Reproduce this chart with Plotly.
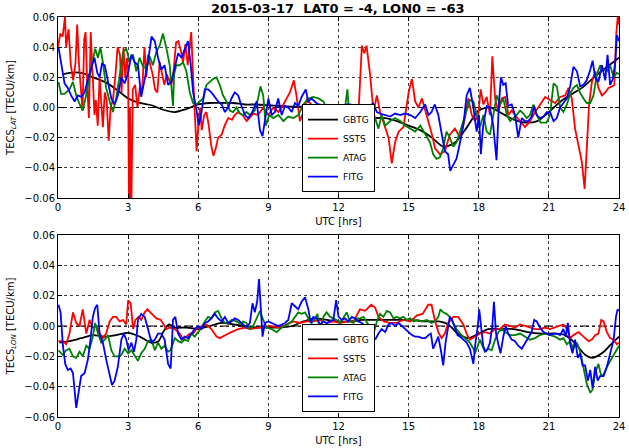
import plotly.graph_objects as go

# ---------------- data (TECU/km vs UTC hours) ----------------
series_names = ["GBTG", "SSTS", "ATAG", "FITG"]

# ---- upper panel: TECS_LAT ----
lat_t_gbtg = [0.2,0.5,1.0,1.5,2.0,2.5,3.0,3.5,4.0,4.5,5.0,5.5,6.0,6.5,7.0,7.5,8.0,8.5,9.0,9.5,10.0,10.5,11.0,11.5,11.9,12.3,13.0,13.5,14.0,14.5,15.0,15.5,16.0,16.5,17.0,17.5,18.0,18.5,19.0,19.5,20.0,20.5,21.0,21.5,22.0,22.5,23.0,23.5,24.0]
lat_gbtg = [0.022,0.023,0.023,0.020,0.017,0.012,0.006,0.003,0.0015,-0.0015,-0.003,-0.001,0.002,0.003,0.003,0.003,0.002,0.002,0.0015,0.001,0.0005,0.0005,0.0005,0.0,-0.003,-0.007,-0.007,-0.007,-0.007,-0.009,-0.012,-0.015,-0.020,-0.026,-0.023,-0.013,-0.002,0.0,-0.004,-0.008,-0.010,-0.009,-0.003,0.004,0.009,0.014,0.021,0.027,0.033]

lat_t_ssts = [0.0,0.1,0.2,0.3,0.35,0.45,0.55,0.65,0.75,0.82,0.9,0.98,1.05,1.12,1.18,1.25,1.32,1.4,1.48,1.56,1.62,1.7,1.78,1.85,1.92,2.0,2.08,2.17,2.25,2.35,2.45,2.55,2.65,2.72,2.8,2.88,2.95,3.0,3.04,3.08,3.13,3.2,3.3,3.4,3.5,3.6,3.7,3.78,3.85,3.95,4.05,4.15,4.25,4.35,4.45,4.55,4.65,4.75,4.85,4.95,5.05,5.15,5.25,5.35,5.45,5.55,5.62,5.7,5.78,5.85,5.93,6.0,6.08,6.15,6.25,6.35,6.45,6.55,6.65,6.75,6.85,7.0,7.13,7.28,7.45,7.56,7.7,7.9,
              8.07,8.36,8.56,8.78,9.0,9.21,9.43,9.64,9.78,9.92,10.09,10.2,10.35,10.5,10.64,10.78,11.0,11.2,11.42,11.64,11.85,12.0,12.2,12.42,12.64,12.85,13.0,13.1,13.2,13.35,13.5,13.64,13.78,14.0,14.14,14.28,14.42,14.57,14.78,15.0,15.14,15.28,15.42,15.57,15.78,
              16.0,16.13,16.34,16.55,16.76,16.98,17.2,17.41,17.55,17.7,17.84,17.98,18.08,18.2,18.34,18.48,18.58,18.7,18.84,18.98,19.13,19.27,19.41,19.55,19.77,19.98,20.2,20.41,20.63,20.84,21.05,21.27,21.48,21.7,21.84,21.98,22.12,22.27,22.41,22.53,22.62,22.72,22.84,22.98,23.12,23.27,23.41,23.55,23.7,23.8,23.88,23.95,24.0]
lat_ssts = [0.040,0.049,0.047,0.060,0.040,0.052,0.028,0.018,0.030,0.055,0.028,0.010,-0.002,0.045,0.050,0.015,-0.007,0.050,0.020,-0.005,0.005,-0.012,0.020,0.000,-0.013,0.010,0.005,-0.022,0.000,0.005,0.020,0.040,0.035,0.010,0.040,0.020,0.033,0.025,-0.075,0.000,-0.075,0.012,0.015,0.000,0.013,0.012,0.040,0.020,0.035,0.028,0.022,0.012,0.010,0.030,0.022,0.015,0.022,0.018,0.015,0.025,0.043,0.044,0.038,0.030,0.042,0.028,0.040,0.050,0.020,-0.005,-0.029,-0.012,0.000,-0.015,-0.005,-0.003,-0.012,-0.025,-0.032,-0.027,-0.020,-0.018,-0.012,-0.007,-0.008,-0.005,-0.003,-0.005,
            -0.009,-0.004,-0.005,0.000,-0.005,0.000,-0.003,0.002,0.006,0.010,0.018,0.008,-0.009,-0.003,0.005,0.003,-0.001,0.002,-0.007,-0.012,-0.007,0.000,-0.005,-0.009,-0.007,-0.005,0.041,0.036,0.041,0.022,-0.003,0.008,-0.003,-0.014,-0.020,-0.037,-0.023,-0.016,-0.013,0.010,0.019,0.004,0.000,0.006,-0.005,
            -0.018,-0.027,-0.031,-0.029,-0.018,-0.014,-0.020,-0.007,0.006,-0.005,-0.009,-0.005,0.012,0.002,0.007,-0.005,0.034,0.006,-0.003,0.006,0.007,-0.005,-0.002,-0.005,-0.009,-0.013,-0.009,-0.003,0.002,0.007,0.005,0.003,0.007,0.008,0.013,0.006,-0.014,-0.025,-0.036,-0.054,-0.027,0.002,0.017,0.024,0.013,0.008,0.010,0.013,0.014,0.015,0.048,0.061,0.055]

lat_t_atag = [0.02,0.13,0.28,0.49,0.64,0.78,0.93,1.06,1.2,1.35,1.49,1.59,1.71,1.81,1.92,2.06,2.21,2.35,2.49,2.64,2.79,2.92,3.06,3.21,3.35,3.49,3.64,3.78,3.92,4.06,4.21,4.35,4.49,4.64,4.78,4.88,4.92,4.97,5.06,5.21,5.35,5.49,5.64,5.78,5.92,6.06,6.21,6.35,6.49,6.64,6.78,6.92,7.06,7.21,7.35,7.49,7.64,7.78,7.92,8.06,8.21,8.42,8.56,8.66,8.78,8.89,9.04,9.21,9.43,9.64,9.85,10.07,10.28,10.5,10.71,10.92,11.14,11.35,11.57,11.78,12.0,12.14,12.28,12.38,12.5,12.71,12.92,13.14,13.28,13.42,13.57,13.71,13.85,14.0,14.21,14.42,14.64,14.85,15.07,15.28,15.5,15.71,15.91,16.05,16.19,16.34,16.48,16.62,16.76,16.91,17.05,17.2,17.34,17.48,17.62,17.77,17.91,18.05,18.2,18.34,18.48,18.62,18.77,18.91,19.05,19.2,19.34,19.48,19.62,19.77,19.91,20.05,20.19,20.34,20.48,20.65,20.9,21.05,21.2,21.34,21.48,21.62,21.77,21.91,22.05,22.2,22.33,22.48,22.62,22.77,22.91,23.05,23.2,23.34,23.48,23.62,23.77,23.91,24.0]
lat_atag = [0.017,0.009,0.009,0.012,0.017,0.008,0.002,-0.002,0.008,0.020,0.033,0.039,0.033,0.040,0.030,0.013,0.004,-0.003,0.006,0.022,0.037,0.039,0.031,0.035,0.024,0.033,0.027,0.026,0.034,0.028,0.037,0.041,0.049,0.039,0.028,0.008,0.001,0.022,0.028,0.028,0.030,0.024,0.010,0.003,0.002,0.004,0.006,0.015,0.017,0.019,0.020,0.015,0.008,0.004,-0.002,-0.003,0.000,-0.004,-0.005,-0.003,-0.005,-0.002,0.006,0.014,0.008,-0.012,-0.005,-0.007,-0.005,-0.009,-0.006,-0.007,-0.005,0.002,0.006,0.007,0.006,0.004,-0.003,-0.007,-0.014,-0.007,0.000,0.012,-0.014,-0.015,-0.014,-0.018,-0.005,0.000,-0.007,-0.014,-0.005,-0.012,-0.009,-0.007,-0.009,-0.012,-0.014,-0.016,-0.012,-0.018,-0.023,-0.031,-0.034,-0.033,-0.027,-0.016,-0.020,-0.026,-0.023,-0.016,-0.009,-0.003,0.005,0.004,-0.005,-0.013,-0.005,-0.016,-0.018,-0.005,0.008,0.002,0.006,-0.005,-0.009,-0.007,-0.005,-0.002,-0.004,-0.007,-0.005,0.002,-0.005,-0.010,-0.010,-0.005,0.016,0.014,0.000,-0.003,0.002,0.009,0.013,0.015,0.010,0.006,0.003,0.003,0.008,0.022,0.028,0.025,0.024,0.028,0.020,0.023,0.022]

lat_t_fitg = [0.02,0.14,0.28,0.42,0.56,0.71,0.85,1.0,1.14,1.28,1.42,1.56,1.68,1.78,1.88,2.0,2.14,2.28,2.42,2.56,2.71,2.85,3.0,3.14,3.28,3.42,3.56,3.71,3.85,4.0,4.14,4.28,4.42,4.56,4.71,4.85,5.0,5.14,5.28,5.42,5.56,5.68,5.78,5.92,6.02,6.14,6.28,6.42,6.56,6.71,6.85,7.0,7.14,7.28,7.42,7.56,7.71,7.85,8.0,8.14,8.28,8.5,8.64,8.75,8.85,9.0,9.14,9.28,9.42,9.57,9.71,9.85,10.0,10.14,10.28,10.42,10.6,10.7,10.85,11.05,11.27,11.49,11.71,11.92,12.07,12.21,12.35,12.5,12.64,12.78,12.92,13.07,13.21,13.35,13.47,13.64,13.78,14.0,14.21,14.42,14.64,14.85,15.07,15.28,15.5,15.71,15.85,15.98,16.12,16.27,16.41,16.55,16.69,16.78,16.91,17.05,17.2,17.34,17.48,17.62,17.77,17.91,18.01,18.09,18.19,18.34,18.48,18.62,18.76,18.86,18.95,19.05,19.15,19.26,19.41,19.55,19.69,19.84,19.98,20.12,20.26,20.37,20.48,20.62,20.77,20.91,21.05,21.2,21.34,21.48,21.62,21.77,21.91,22.05,22.2,22.34,22.48,22.62,22.77,22.87,22.98,23.12,23.27,23.41,23.51,23.62,23.74,23.84,23.91,24.0]
lat_fitg = [0.040,0.028,0.016,0.013,0.008,0.004,0.008,0.007,0.010,0.019,0.026,0.033,0.023,0.020,0.029,0.028,0.017,0.006,0.002,0.008,0.020,0.016,0.023,0.035,0.030,0.028,0.007,0.018,0.030,0.047,0.044,0.033,0.025,0.028,0.015,0.017,0.028,0.036,0.033,0.039,0.044,0.028,0.010,-0.001,-0.012,-0.003,0.012,0.012,0.010,0.007,0.004,0.002,-0.003,0.000,0.006,0.010,0.008,0.001,-0.005,-0.007,-0.004,0.004,-0.015,-0.019,-0.009,0.006,-0.005,-0.003,0.006,-0.005,0.001,0.000,-0.003,0.003,0.001,0.007,0.012,0.004,0.006,0.003,0.001,0.000,-0.003,0.001,-0.007,0.000,0.002,0.002,-0.003,-0.007,-0.009,-0.007,-0.006,0.000,0.003,-0.003,-0.004,-0.005,-0.006,-0.004,-0.005,-0.004,-0.005,-0.007,-0.003,0.002,-0.005,-0.003,0.002,-0.005,-0.016,-0.029,-0.031,-0.042,-0.038,-0.034,-0.023,-0.012,0.008,0.013,0.000,-0.016,-0.005,-0.031,-0.012,0.001,0.000,-0.012,-0.035,0.002,0.020,0.015,0.016,0.001,0.002,-0.005,-0.020,-0.007,-0.009,-0.009,-0.006,0.001,-0.005,-0.007,-0.006,-0.003,-0.003,-0.009,-0.007,0.000,0.003,0.006,0.014,0.027,0.024,0.014,0.015,0.018,0.025,0.031,0.020,0.017,0.028,0.018,0.035,0.015,0.019,0.030,0.048,0.044]

# ---- lower panel: TECS_LON ----
lon_t_gbtg = [0.06,0.5,1.0,1.5,2.0,2.5,3.0,3.5,4.0,4.3,4.5,4.75,5.0,5.5,6.0,6.5,7.0,7.5,8.0,8.5,9.0,9.5,10.0,10.5,11.0,11.5,12.0,12.5,13.0,14.0,15.0,15.8,16.3,16.7,17.1,17.55,18.0,18.4,19.0,19.5,20.1,20.7,21.3,21.7,22.1,22.55,22.85,23.05,23.35,23.6,24.0]
lon_gbtg = [-0.011,-0.010,-0.008,-0.006,-0.007,-0.006,-0.0045,-0.007,-0.011,-0.010,-0.004,0.001,-0.001,-0.001,-0.002,0.000,0.002,0.001,0.000,-0.001,-0.001,-0.001,0.000,0.003,0.005,0.004,0.003,0.003,0.004,0.004,0.004,0.003,0.003,0.001,-0.005,-0.008,-0.005,-0.002,-0.002,-0.002,-0.004,-0.005,-0.005,-0.006,-0.011,-0.019,-0.021,-0.020,-0.017,-0.013,-0.007]

lon_t_ssts = [0.02,0.2,0.35,0.49,0.64,0.78,0.92,1.06,1.21,1.35,1.49,1.64,1.78,1.92,2.06,2.21,2.35,2.49,2.64,2.78,2.92,3.0,3.11,3.21,3.31,3.45,3.56,3.71,3.82,4.0,4.21,4.4,4.49,4.64,4.78,5.0,5.21,5.35,5.49,5.64,5.78,5.92,6.14,6.35,6.56,6.78,6.92,7.14,7.42,7.71,8.0,8.21,8.64,9.07,9.5,9.78,10.07,10.35,10.64,10.92,11.21,11.49,11.78,12.07,12.35,12.64,12.92,13.14,13.4,13.57,13.71,13.94,14.2,14.49,14.78,15.07,15.36,15.6,15.84,15.98,16.12,16.27,16.41,16.55,16.69,16.91,17.12,17.34,17.48,17.62,17.84,18.05,18.26,18.48,18.7,18.91,19.12,19.34,19.55,19.77,19.98,20.19,20.41,20.62,20.84,21.05,21.27,21.48,21.62,21.77,21.91,22.05,22.27,22.48,22.7,22.84,22.98,23.12,23.24,23.34,23.48,23.62,23.77,23.91,24.0]
lon_ssts = [-0.010,-0.010,-0.012,-0.005,0.009,0.002,0.000,0.011,-0.005,0.004,-0.001,0.000,-0.005,-0.008,-0.005,0.003,0.006,0.006,0.003,0.004,0.001,0.017,0.015,-0.002,0.004,0.006,0.004,0.009,0.011,0.008,0.005,0.004,0.002,-0.002,-0.001,-0.002,-0.005,-0.009,-0.007,-0.005,-0.005,-0.002,0.000,0.001,-0.002,-0.007,-0.008,-0.006,-0.004,-0.002,-0.001,-0.002,-0.001,0.000,-0.001,0.001,0.003,0.002,0.003,0.003,0.004,0.002,0.003,0.002,0.003,0.003,0.011,0.010,0.014,0.012,0.006,0.003,0.002,0.002,0.004,0.003,0.007,0.008,0.014,0.014,0.004,-0.004,-0.008,-0.005,0.002,0.006,0.006,0.001,-0.005,-0.009,-0.007,-0.005,-0.004,-0.005,-0.002,-0.002,0.001,0.000,-0.001,0.001,0.000,-0.001,-0.002,-0.002,-0.001,-0.002,-0.001,0.000,0.001,-0.002,-0.008,-0.006,-0.004,-0.007,-0.010,-0.009,-0.006,-0.005,0.004,0.003,-0.004,-0.008,-0.009,-0.012,-0.011]

lon_t_atag = [0.02,0.2,0.35,0.49,0.64,0.78,0.92,1.06,1.21,1.35,1.49,1.59,1.71,1.85,2.0,2.14,2.28,2.42,2.56,2.71,2.85,3.0,3.14,3.28,3.42,3.56,3.71,3.85,4.0,4.14,4.28,4.42,4.56,4.71,4.81,5.0,5.14,5.28,5.42,5.56,5.71,5.85,6.0,6.14,6.28,6.42,6.56,6.71,6.85,7.0,7.14,7.28,7.42,7.64,7.85,7.92,8.06,8.21,8.35,8.49,8.64,8.78,8.92,9.14,9.35,9.57,9.78,10.0,10.14,10.28,10.42,10.57,10.71,10.85,11.0,11.1,11.21,11.35,11.49,11.64,11.78,11.92,12.07,12.21,12.35,12.49,12.64,12.78,12.92,13.07,13.21,13.35,13.5,13.64,13.78,13.92,14.07,14.21,14.35,14.49,14.64,14.78,14.92,15.07,15.21,15.35,15.57,15.78,15.98,16.12,16.27,16.36,16.48,16.62,16.76,16.91,17.05,17.2,17.34,17.48,17.62,17.77,17.84,17.96,18.05,18.15,18.26,18.41,18.55,18.7,18.84,18.98,19.12,19.34,19.55,19.77,19.98,20.19,20.41,20.62,20.84,21.05,21.27,21.48,21.62,21.77,21.91,22.05,22.2,22.34,22.48,22.62,22.77,22.87,22.98,23.12,23.24,23.34,23.48,23.62,23.77,23.91,24.0]
lon_atag = [-0.016,-0.019,-0.016,-0.015,-0.020,-0.021,-0.017,-0.020,-0.013,-0.015,-0.007,0.002,-0.005,-0.011,-0.009,-0.006,-0.016,-0.020,-0.020,-0.019,-0.015,-0.018,-0.016,-0.020,-0.023,-0.018,-0.015,-0.010,-0.009,-0.016,-0.011,-0.015,-0.013,-0.017,-0.016,-0.008,-0.010,-0.011,-0.009,-0.010,-0.005,-0.007,-0.004,-0.001,0.003,0.006,0.005,0.009,0.010,0.005,0.002,0.002,0.004,0.003,0.001,0.003,0.002,-0.002,0.000,0.005,0.010,0.004,-0.001,-0.002,-0.004,-0.001,0.001,0.003,0.006,0.009,0.008,0.009,0.005,0.002,0.005,0.008,-0.005,0.006,0.009,0.006,0.005,0.004,0.002,0.006,0.009,0.003,0.002,0.005,0.005,0.006,0.002,-0.001,-0.005,0.003,0.008,0.006,0.010,0.009,0.005,0.006,0.005,0.006,0.004,0.005,0.003,0.004,0.003,0.004,0.002,0.003,0.006,0.011,0.009,0.008,0.006,0.002,-0.002,-0.005,-0.007,-0.009,-0.011,-0.015,-0.018,-0.013,-0.009,-0.013,-0.017,-0.015,-0.016,-0.009,-0.004,-0.002,-0.004,-0.006,-0.006,-0.005,-0.007,-0.009,-0.008,-0.006,-0.005,-0.006,-0.007,-0.009,-0.008,-0.012,-0.010,-0.015,-0.011,-0.017,-0.027,-0.038,-0.044,-0.042,-0.031,-0.025,-0.033,-0.032,-0.027,-0.023,-0.019,-0.015,-0.013]

lon_t_fitg = [0.02,0.11,0.21,0.31,0.42,0.54,0.64,0.71,0.78,0.88,0.99,1.14,1.28,1.39,1.49,1.59,1.68,1.78,1.92,2.06,2.21,2.31,2.42,2.56,2.71,2.82,2.92,3.02,3.14,3.25,3.35,3.42,3.56,3.71,3.85,4.0,4.14,4.28,4.42,4.56,4.71,4.82,4.92,5.02,5.14,5.28,5.42,5.56,5.71,5.85,6.0,6.14,6.28,6.42,6.56,6.71,6.85,7.0,7.14,7.28,7.42,7.56,7.71,7.85,8.06,8.21,8.32,8.42,8.52,8.6,8.68,8.75,8.85,9.0,9.14,9.28,9.42,9.57,9.71,9.85,10.0,10.14,10.28,10.42,10.57,10.71,10.81,10.92,11.07,11.21,11.35,11.49,11.64,11.78,11.9,12.0,12.14,12.28,12.42,12.57,12.71,12.85,13.0,13.14,13.28,13.42,13.57,13.71,13.85,14.0,14.14,14.28,14.42,14.57,14.71,14.85,15.0,15.14,15.28,15.42,15.57,15.71,15.85,15.95,16.05,16.15,16.27,16.38,16.48,16.58,16.66,16.76,16.86,16.98,17.09,17.2,17.34,17.48,17.62,17.77,17.86,17.96,18.02,18.12,18.19,18.29,18.38,18.48,18.58,18.65,18.74,18.84,18.93,19.05,19.16,19.26,19.41,19.55,19.69,19.84,19.98,20.12,20.26,20.37,20.48,20.62,20.77,20.91,21.05,21.2,21.34,21.48,21.62,21.72,21.81,21.91,22.01,22.12,22.24,22.34,22.44,22.55,22.67,22.77,22.87,22.98,23.09,23.19,23.34,23.48,23.62,23.77,23.87,23.94,24.0]
lon_fitg = [0.014,0.009,-0.013,-0.025,-0.029,-0.028,-0.031,-0.044,-0.054,-0.044,-0.033,-0.031,-0.022,-0.009,0.006,0.012,0.014,-0.005,-0.011,-0.022,-0.033,-0.039,-0.036,-0.027,-0.009,-0.005,-0.009,-0.016,-0.011,-0.017,-0.009,0.004,0.008,0.006,-0.002,-0.011,-0.009,-0.005,-0.005,-0.009,-0.025,-0.028,0.004,0.006,-0.005,-0.009,-0.007,-0.008,-0.005,-0.002,0.000,-0.002,0.002,0.003,0.005,0.008,0.005,0.003,0.006,0.002,0.003,0.005,0.004,0.002,-0.001,0.002,0.015,0.009,0.016,0.031,0.014,-0.007,0.002,0.003,0.002,0.001,0.000,0.001,0.002,0.004,0.015,0.013,0.011,0.016,0.019,0.011,0.002,0.006,0.005,0.001,0.003,0.002,0.003,0.004,0.017,0.006,0.004,0.005,0.003,0.006,0.005,0.003,0.002,0.000,-0.002,-0.005,-0.009,-0.005,-0.002,-0.004,0.001,0.002,0.000,0.002,0.000,-0.002,-0.004,-0.006,-0.007,-0.007,-0.008,-0.008,-0.006,-0.005,-0.015,-0.011,-0.007,-0.016,-0.026,-0.011,-0.004,0.006,0.004,-0.002,-0.006,-0.007,-0.009,-0.011,-0.015,-0.025,-0.011,0.000,0.011,-0.002,-0.013,-0.017,-0.015,-0.011,0.000,0.016,-0.005,-0.012,-0.018,-0.007,0.000,-0.005,-0.009,-0.010,-0.013,-0.015,-0.011,-0.007,-0.004,0.004,0.003,-0.001,-0.004,-0.005,-0.006,-0.005,-0.005,-0.006,-0.002,-0.007,0.002,-0.012,-0.018,-0.009,-0.021,-0.018,-0.026,-0.026,-0.036,-0.029,-0.041,-0.027,-0.036,-0.033,-0.033,-0.027,-0.018,-0.009,0.006,0.011,0.010]

x_ticks = [0, 3, 6, 9, 12, 15, 18, 21, 24]
y_ticks = [-0.06, -0.04, -0.02, 0.00, 0.02, 0.04, 0.06]
title_text = "2015-03-17\u00a0\u00a0LAT0 = -4, LON0 = -63"
colors = ["#000000", "#ff0000", "#008000", "#0000ff"]

upper = [(lat_t_gbtg, lat_gbtg), (lat_t_ssts, lat_ssts), (lat_t_atag, lat_atag), (lat_t_fitg, lat_fitg)]
lower = [(lon_t_gbtg, lon_gbtg), (lon_t_ssts, lon_ssts), (lon_t_atag, lon_atag), (lon_t_fitg, lon_fitg)]

fig = go.Figure()
FONT = "DejaVu Sans"

for panel, (xa, ya, leg) in zip([upper, lower], [("x", "y", "legend"), ("x2", "y2", "legend2")]):
    for name, color, (tt, vv) in zip(series_names, colors, panel):
        fig.add_trace(go.Scatter(
            x=tt, y=vv, mode="lines", name=name, xaxis=xa, yaxis=ya, legend=leg,
            line=dict(color=color, width=1.8, shape="spline" if name == "GBTG" else "linear",
                      smoothing=0.8 if name == "GBTG" else 0),
            showlegend=True,
        ))

# zero reference lines (dash-dot)
for xa, ya in [("x", "y"), ("x2", "y2")]:
    fig.add_shape(type="line", xref=f"{xa} domain", yref=ya, x0=0, x1=1, y0=0, y1=0,
                  line=dict(color="black", width=1.2, dash="dashdot"), layer="below")

axis_common = dict(
    showline=True, linecolor="black", linewidth=1, mirror="allticks",
    ticks="inside", ticklen=4, tickcolor="black", tickwidth=1,
    showgrid=True, gridcolor="rgba(0,0,0,0.75)", griddash="dot", gridwidth=1,
    zeroline=False, tickfont=dict(family=FONT, size=10, color="black"), automargin=False,
)
xcommon = dict(axis_common, range=[0, 24], tickvals=x_ticks, ticktext=[str(v) for v in x_ticks],
               title=dict(text="UTC [hrs]", font=dict(family=FONT, size=10, color="black"), standoff=5))
ycommon = dict(axis_common, range=[-0.06, 0.06], tickvals=y_ticks, tickformat=".2f")

legend_common = dict(
    bgcolor="white", bordercolor="black", borderwidth=1,
    font=dict(family=FONT, size=9, color="black"),
    xanchor="center", yanchor="bottom", itemwidth=30, tracegroupgap=0,
)

fig.update_layout(
    width=629, height=448,
    margin=dict(l=58, r=10, t=17, b=31),
    paper_bgcolor="white", plot_bgcolor="white",
    font=dict(family=FONT, color="black"),
    title=dict(text="<b>" + title_text + "</b>", x=0.537, xref="container", y=0.982, yref="container",
               xanchor="center", yanchor="middle", font=dict(family=FONT, size=13, color="black")),
    xaxis=dict(xcommon, domain=[0, 1], anchor="y"),
    yaxis=dict(ycommon, domain=[0.5475, 1.0], anchor="x",
               title=dict(text="TECS<sub><i>LAT</i></sub> [TECU/km]", font=dict(family=FONT, size=10, color="black"), standoff=7)),
    xaxis2=dict(xcommon, domain=[0, 1], anchor="y2"),
    yaxis2=dict(ycommon, domain=[0.0, 0.455], anchor="x2",
                title=dict(text="TECS<sub><i>LON</i></sub> [TECU/km]", font=dict(family=FONT, size=10, color="black"), standoff=7)),
    legend=dict(legend_common, x=0.5, y=0.562),
    legend2=dict(legend_common, x=0.5, y=0.013),
)

fig.write_html("out.html")
